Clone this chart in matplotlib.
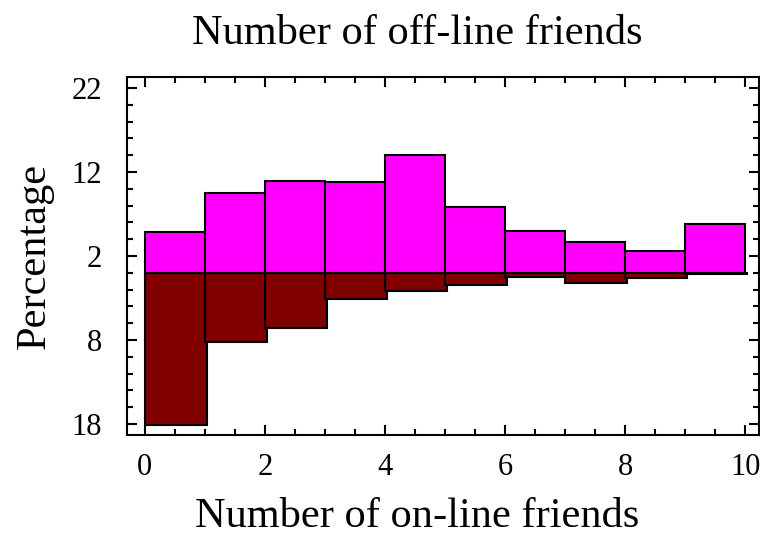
import matplotlib.pyplot as plt
from matplotlib.ticker import MultipleLocator, FixedLocator, FuncFormatter

plt.rcParams['font.family'] = ['Liberation Serif', 'DejaVu Serif']

# bins of the on-line friends count
bin_left = [0, 1, 2, 3, 4, 5, 6, 7, 8, 9]
# percentages for the two groups (upper and lower halves)
upper_pct = [4.8, 9.45, 10.9, 10.85, 14.0, 7.8, 5.0, 3.65, 2.65, 5.8]
lower_pct = [18.15, 8.2, 6.55, 3.15, 2.15, 1.45, 0.45, 1.2, 0.65, 0.15]

y_major = [-18, -8, 2, 12, 22]

fig = plt.figure(figsize=(7.6, 5.36), dpi=100)
ax = fig.add_axes([0.167, 0.1884, 0.832, 0.6679])

ax.bar(bin_left, upper_pct, width=1.0, align='edge', color='#ff00ff',
       edgecolor='black', linewidth=1.5)
ax.bar(bin_left, [-v for v in lower_pct], width=1.03, align='edge',
       color='#800000', edgecolor='black', linewidth=1.5)

ax.set_xlim(-0.3, 10.23)
ax.set_ylim(-19.3, 23.3)

ax.xaxis.set_major_locator(MultipleLocator(2))
ax.xaxis.set_minor_locator(MultipleLocator(0.5))
ax.yaxis.set_major_locator(FixedLocator(y_major))
ax.yaxis.set_minor_locator(MultipleLocator(2))
ax.yaxis.set_major_formatter(FuncFormatter(lambda v, p: '%d' % abs(v)))

for s in ax.spines.values():
    s.set_linewidth(1.5)
ax.tick_params(which='both', direction='in', top=True, right=True,
               width=1.5, labelsize=22)
ax.tick_params(which='major', length=7)
ax.tick_params(which='minor', length=4)
ax.tick_params(axis='y', pad=18)
ax.tick_params(axis='x', pad=13)

# labels sit a little left of the axes centre
ax.set_title('Number of off-line friends', fontsize=30.5, pad=24, x=0.459)
ax.set_xlabel('Number of on-line friends', fontsize=30.5, labelpad=11)
ax.xaxis.label.set_x(0.459)
ax.set_ylabel('Percentage', fontsize=30.5, labelpad=13)

fig.savefig('out.png', dpi=100)
